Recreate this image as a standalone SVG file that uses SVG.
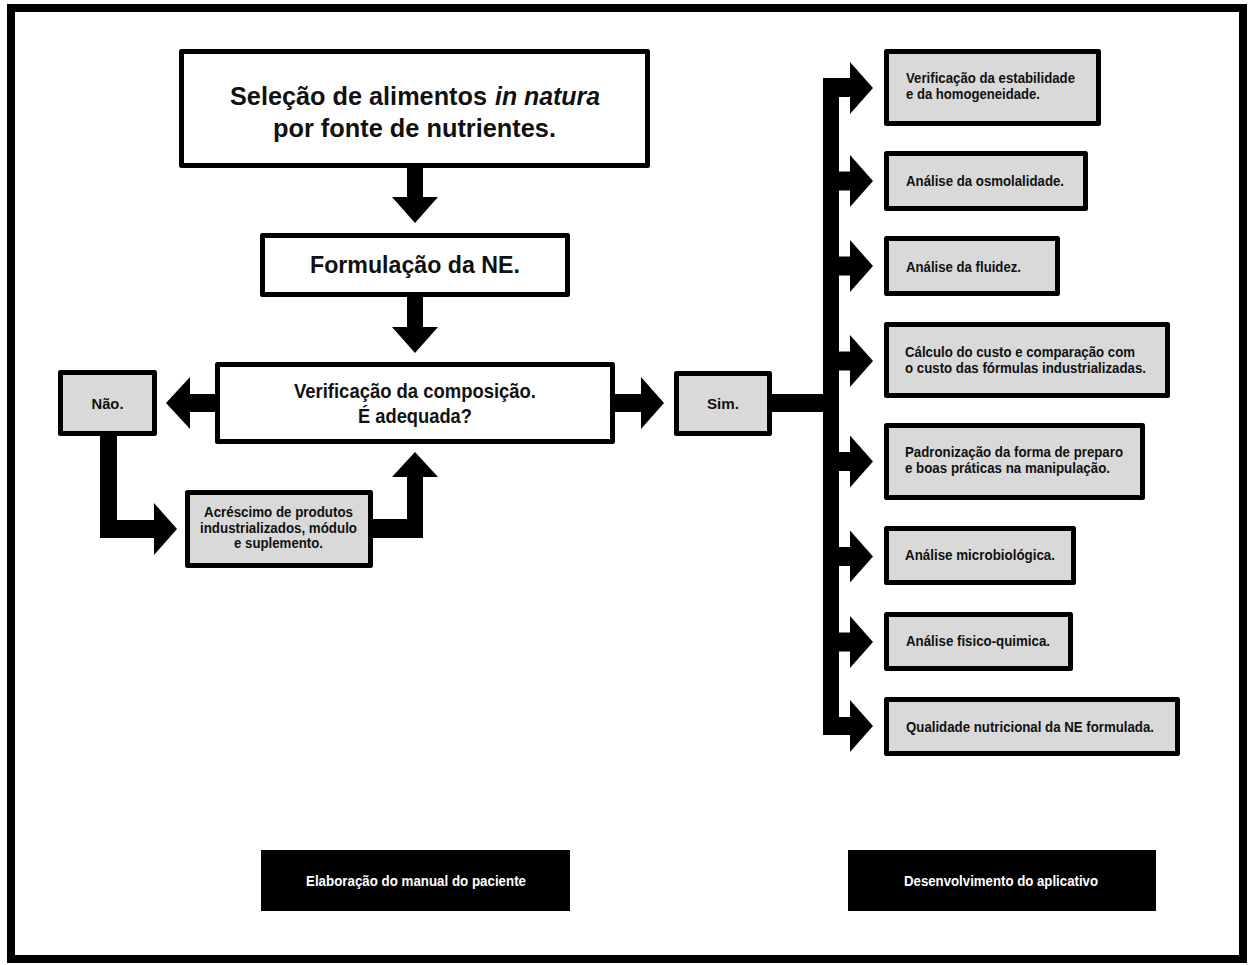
<svg xmlns="http://www.w3.org/2000/svg" width="1253" height="965" viewBox="0 0 1253 965">
<style>
.box{fill:#ffffff;stroke:#000;stroke-width:5;stroke-linejoin:round}
.gbox{fill:#d9d9d9;stroke:#000;stroke-width:5;stroke-linejoin:round}
.bbox{fill:#000;stroke:none}
.t{font-family:"Liberation Sans Narrow","Liberation Sans",Arial,sans-serif;font-weight:bold;fill:#111}
.r{font-size:15px}
.w{font-family:"Liberation Sans Narrow","Liberation Sans",Arial,sans-serif;font-weight:bold;fill:#fff;font-size:14px}
.conn{fill:#000;stroke:none}
</style>
<rect x="0" y="0" width="1253" height="965" fill="#fff"/>
<rect id="frame" x="11" y="8" width="1232" height="951" fill="none" stroke="#000" stroke-width="8"/>

<g id="connectors">
  <polygon class="conn" points="407,166 423,166 423,197 438,197 415,223 392,197 407,197"/>
  <polygon class="conn" points="407,296 423,296 423,327 438,327 415,353 392,327 407,327"/>
  <polygon class="conn" points="216,394 190,394 190,377 166,403 190,429 190,412 216,412"/>
  <polygon class="conn" points="613,394 641,394 641,377 664,403 641,429 641,412 613,412"/>
  <polygon class="conn" points="100,434 117,434 117,520 154,520 154,503 177,529 154,555 154,538 100,538"/>
  <polygon class="conn" points="371,519 407,519 407,477 392,477 415,452 438,477 423,477 423,538 371,538"/>
  <rect class="conn" x="769" y="394" width="56" height="18"/>
  <polygon class="conn" points="823,78 850,78 850,62 873,88 850,114 850,97 839,97 839,717 850,717 850,700 873,726 850,752 850,735 823,735"/>
  <polygon class="conn" points="838,171.5 850,171.5 850,155 873,181 850,207 850,190.5 838,190.5"/>
  <polygon class="conn" points="838,256.5 850,256.5 850,240 873,266 850,292 850,275.5 838,275.5"/>
  <polygon class="conn" points="838,351.5 850,351.5 850,335 873,361 850,387 850,370.5 838,370.5"/>
  <polygon class="conn" points="838,452 850,452 850,435.5 873,461.5 850,487.5 850,471 838,471"/>
  <polygon class="conn" points="838,547 850,547 850,530.5 873,556.5 850,582.5 850,566 838,566"/>
  <polygon class="conn" points="838,632.5 850,632.5 850,616 873,642 850,668 850,651.5 838,651.5"/>
</g>

<g id="selecao">
  <rect class="box" x="181.5" y="51.5" width="466" height="114"/>
  <text class="t" x="230" y="105" font-size="25" textLength="257" lengthAdjust="spacingAndGlyphs">Seleção de alimentos</text>
  <text class="t" x="495" y="105" font-size="25" font-style="italic" textLength="105" lengthAdjust="spacingAndGlyphs">in natura</text>
  <text class="t" x="273" y="137" font-size="25" textLength="283" lengthAdjust="spacingAndGlyphs">por fonte de nutrientes.</text>
</g>

<g id="formulacao">
  <rect class="box" x="262.5" y="235.5" width="305" height="59"/>
  <text class="t" x="310" y="273" font-size="24" textLength="210" lengthAdjust="spacingAndGlyphs">Formulação da NE.</text>
</g>

<g id="verificacao">
  <rect class="box" x="217.5" y="364.5" width="395" height="77"/>
  <text class="t" x="294" y="398" font-size="21" textLength="242" lengthAdjust="spacingAndGlyphs">Verificação da composição.</text>
  <text class="t" x="358" y="423" font-size="21" textLength="114" lengthAdjust="spacingAndGlyphs">É adequada?</text>
</g>

<g id="nao">
  <rect class="gbox" x="60.5" y="372.5" width="94" height="61"/>
  <text class="t" x="91.5" y="409" font-size="15" textLength="32" lengthAdjust="spacingAndGlyphs">Não.</text>
</g>

<g id="sim">
  <rect class="gbox" x="676.5" y="373.5" width="93" height="60"/>
  <text class="t" x="707" y="409" font-size="15" textLength="32" lengthAdjust="spacingAndGlyphs">Sim.</text>
</g>

<g id="acrescimo">
  <rect class="gbox" x="187.5" y="492.5" width="183" height="73"/>
  <text class="t" x="204" y="517" font-size="14" textLength="149" lengthAdjust="spacingAndGlyphs">Acréscimo de produtos</text>
  <text class="t" x="200" y="532.5" font-size="14" textLength="157" lengthAdjust="spacingAndGlyphs">industrializados, módulo</text>
  <text class="t" x="234" y="548" font-size="14" textLength="89" lengthAdjust="spacingAndGlyphs">e suplemento.</text>
</g>

<g id="estabilidade">
  <rect class="gbox" x="886.5" y="51.5" width="212" height="72"/>
  <text class="t r" x="906" y="83" textLength="169" lengthAdjust="spacingAndGlyphs">Verificação da estabilidade</text>
  <text class="t r" x="906" y="99" textLength="134" lengthAdjust="spacingAndGlyphs">e da homogeneidade.</text>
</g>

<g id="osmolalidade">
  <rect class="gbox" x="886.5" y="153.5" width="199" height="55"/>
  <text class="t r" x="906" y="186" textLength="158" lengthAdjust="spacingAndGlyphs">Análise da osmolalidade.</text>
</g>

<g id="fluidez">
  <rect class="gbox" x="886.5" y="238.5" width="171" height="55"/>
  <text class="t r" x="906" y="271.5" textLength="115" lengthAdjust="spacingAndGlyphs">Análise da fluidez.</text>
</g>

<g id="custo">
  <rect class="gbox" x="886.5" y="324.5" width="281" height="71"/>
  <text class="t r" x="905" y="357" textLength="230" lengthAdjust="spacingAndGlyphs">Cálculo do custo e comparação com</text>
  <text class="t r" x="905" y="373" textLength="241" lengthAdjust="spacingAndGlyphs">o custo das fórmulas industrializadas.</text>
</g>

<g id="padronizacao">
  <rect class="gbox" x="886.5" y="425.5" width="256" height="72"/>
  <text class="t r" x="905" y="457" textLength="218" lengthAdjust="spacingAndGlyphs">Padronização da forma de preparo</text>
  <text class="t r" x="905" y="473" textLength="205" lengthAdjust="spacingAndGlyphs">e boas práticas na manipulação.</text>
</g>

<g id="microbiologica">
  <rect class="gbox" x="886.5" y="528.5" width="187" height="54"/>
  <text class="t r" x="905" y="560" textLength="150" lengthAdjust="spacingAndGlyphs">Análise microbiológica.</text>
</g>

<g id="fisicoquimica">
  <rect class="gbox" x="886.5" y="614.5" width="184" height="54"/>
  <text class="t r" x="906" y="646" textLength="144" lengthAdjust="spacingAndGlyphs">Análise fisico-quimica.</text>
</g>

<g id="qualidade">
  <rect class="gbox" x="886.5" y="699.5" width="291" height="54"/>
  <text class="t r" x="906" y="732" textLength="248" lengthAdjust="spacingAndGlyphs">Qualidade nutricional da NE formulada.</text>
</g>

<g id="manual">
  <rect class="bbox" x="261" y="850" width="309" height="61"/>
  <text class="w" x="306" y="886" textLength="220" lengthAdjust="spacingAndGlyphs">Elaboração do manual do paciente</text>
</g>

<g id="aplicativo">
  <rect class="bbox" x="848" y="850" width="308" height="61"/>
  <text class="w" x="904" y="886" textLength="194" lengthAdjust="spacingAndGlyphs">Desenvolvimento do aplicativo</text>
</g>
</svg>
